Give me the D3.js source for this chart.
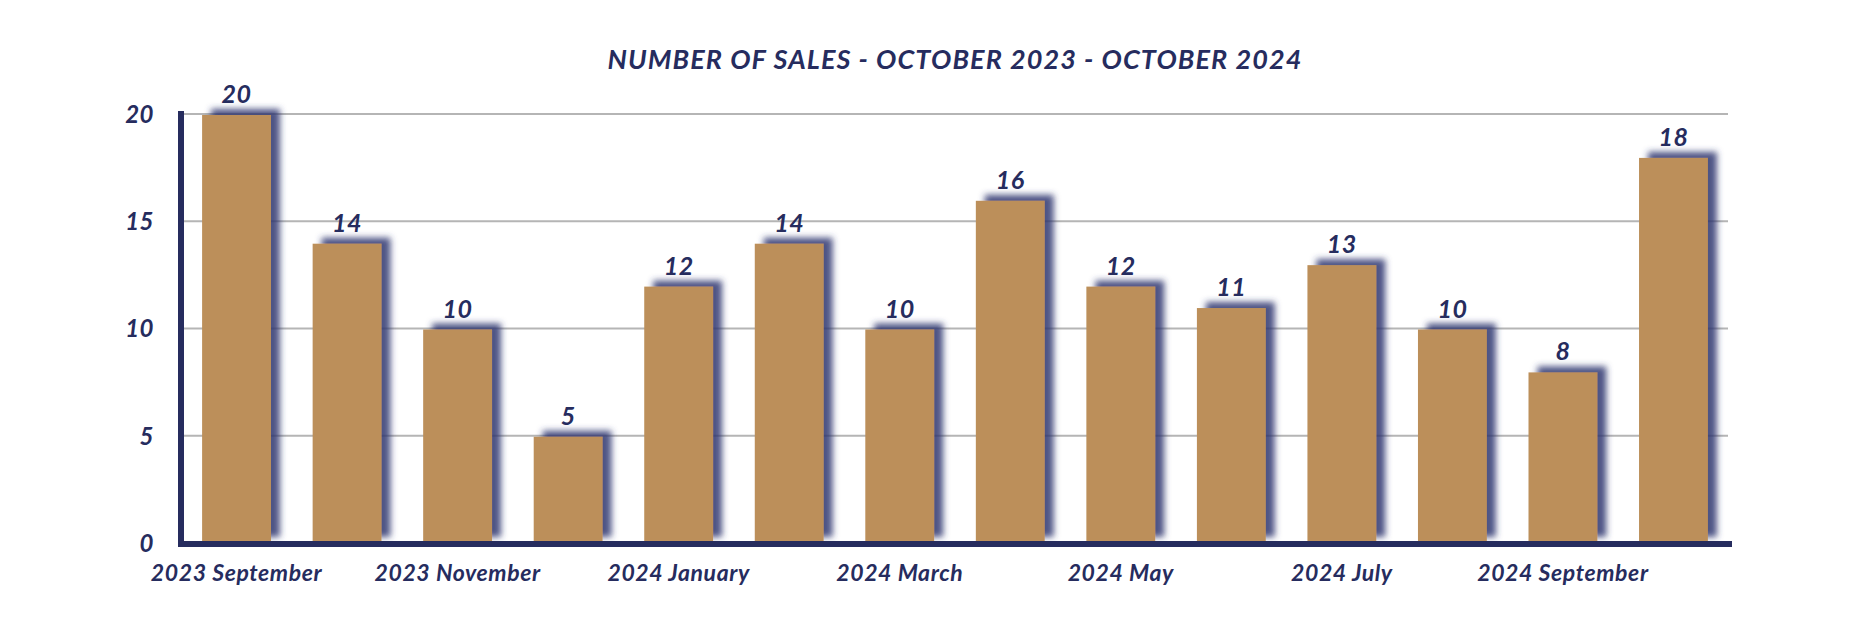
<!DOCTYPE html>
<html>
<head>
<meta charset="utf-8">
<script src="https://cdn.jsdelivr.net/npm/d3@7"></script>
<style>
  html, body { margin: 0; padding: 0; background: #ffffff; }
  svg { display: block; }
  text { font-family: Lato, "Open Sans", sans-serif; font-style: italic; font-weight: 700; fill: #262c5e; }
</style>
</head>
<body>
<svg id="chart" width="1858" height="642"></svg>
<script>
const categories = ["2023 September", "2023 October", "2023 November", "2023 December",
  "2024 January", "2024 February", "2024 March", "2024 April", "2024 May", "2024 June",
  "2024 July", "2024 August", "2024 September", "2024 October"];
const sales = [20, 14, 10, 5, 12, 14, 10, 16, 12, 11, 13, 10, 8, 18];
const yTicks = [0, 5, 10, 15, 20];
const xLabelCategories = ["2023 September", "2023 November", "2024 January", "2024 March",
  "2024 May", "2024 July", "2024 September"];
const title = "NUMBER OF SALES - OCTOBER 2023 - OCTOBER 2024";

const W = 1858, H = 642;
const margin = { left: 180, right: 128, top: 114, bottom: 99 };
const x0 = margin.left, x1 = W - margin.right;
const yTop = margin.top, yBot = H - margin.bottom;

const svg = d3.select("#chart");
const navy = "#262c5e";

const defs = svg.append("defs");
const f = defs.append("filter").attr("id", "shadow")
  .attr("x", "-30%").attr("y", "-30%").attr("width", "160%").attr("height", "160%");
f.append("feDropShadow").attr("dx", 9).attr("dy", -6).attr("stdDeviation", 3.2)
  .attr("flood-color", "#2f3570").attr("flood-opacity", 0.85);

const x = d3.scaleBand().domain(categories).range([x0, x1])
  .paddingInner(0.377).paddingOuter(0.2);
const y = d3.scaleLinear().domain([0, 20]).range([yBot, yTop]);

// gridlines
svg.append("g").selectAll("line").data(yTicks.filter(d => d > 0)).join("line")
  .attr("x1", x0).attr("x2", x1 - 2)
  .attr("y1", d => y(d)).attr("y2", d => y(d))
  .attr("stroke", "#b5b5b5").attr("stroke-width", 2);

// bars
svg.append("g").selectAll("rect").data(sales).join("rect")
  .attr("x", (d, i) => x(categories[i]))
  .attr("width", x.bandwidth())
  .attr("y", d => y(d) + 1)
  .attr("height", d => yBot - y(d) - 1)
  .attr("fill", "#bc8f5a")
  .attr("filter", "url(#shadow)");

// value labels
svg.append("g").selectAll("text").data(sales).join("text")
  .attr("x", (d, i) => x(categories[i]) + x.bandwidth() / 2)
  .attr("y", d => y(d) - 11)
  .attr("text-anchor", "middle")
  .style("font-size", "25px")
  .style("letter-spacing", "0.5px")
  .text(d => d);

// y axis
const yAxis = d3.axisLeft(y).tickValues(yTicks).tickSize(0).tickPadding(26);
const gy = svg.append("g").attr("transform", `translate(${x0},0)`).call(yAxis);
gy.select(".domain").remove();
gy.selectAll("text").style("font-size", "24px").style("letter-spacing", "0.5px").attr("dy", "0.35em");

// x axis labels
const xAxis = d3.axisBottom(x).tickValues(xLabelCategories).tickSize(0).tickPadding(22);
const gx = svg.append("g").attr("transform", `translate(0,${yBot})`).call(xAxis);
gx.select(".domain").remove();
gx.selectAll("text").style("font-size", "23px").style("letter-spacing", "0.6px").attr("dy", "0.71em");

// axis lines
svg.append("line").attr("x1", x0 + 1).attr("x2", x0 + 1).attr("y1", yTop - 3).attr("y2", yBot + 3)
  .attr("stroke", navy).attr("stroke-width", 6);
svg.append("line").attr("x1", x0 - 2).attr("x2", x1 + 2).attr("y1", yBot + 1).attr("y2", yBot + 1)
  .attr("stroke", navy).attr("stroke-width", 6);

// title
svg.append("text").attr("x", 955).attr("y", 69).attr("text-anchor", "middle")
  .style("font-size", "27px").style("letter-spacing", "1.1px").text(title);
</script>
</body>
</html>
